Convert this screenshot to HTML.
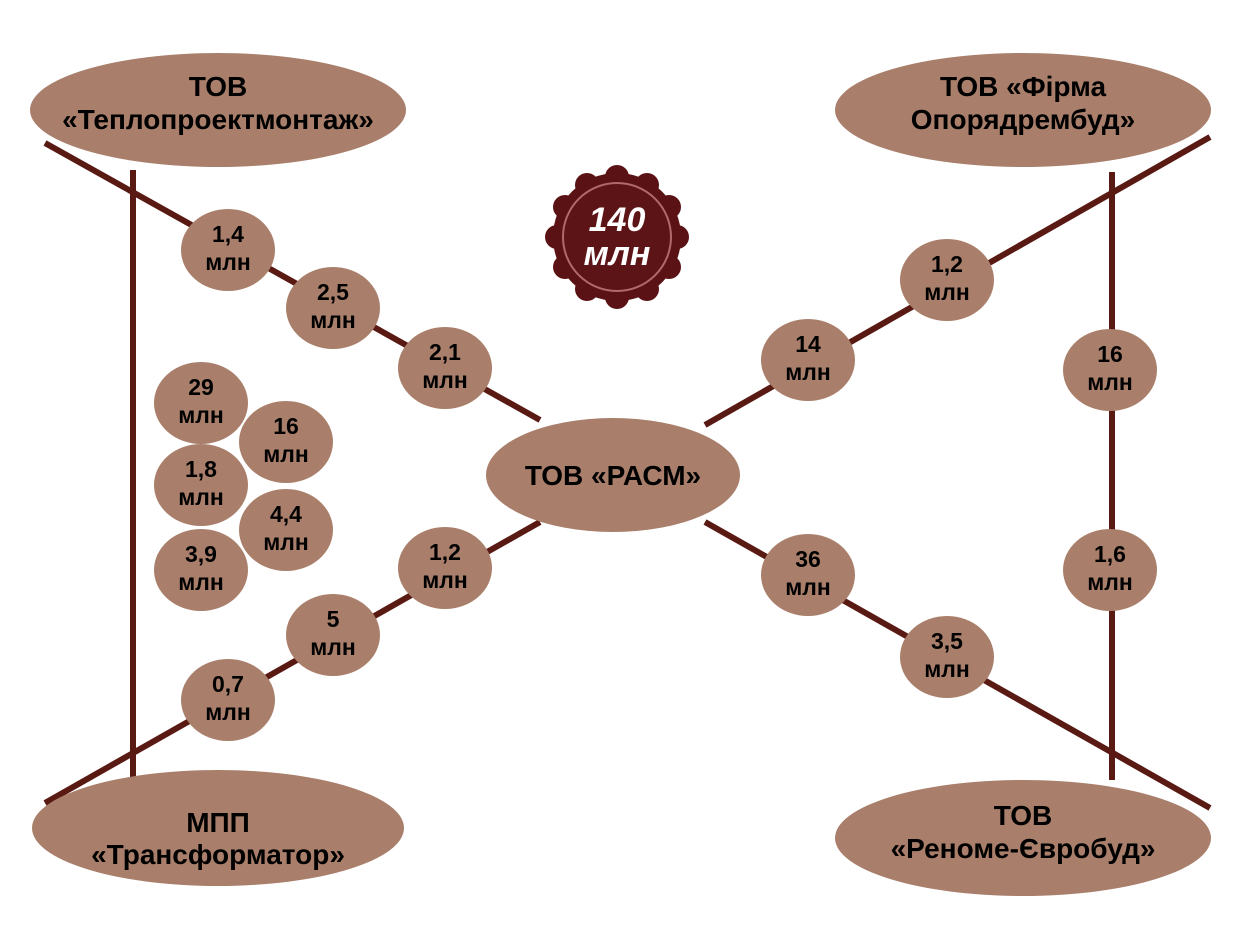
<!DOCTYPE html>
<html><head><meta charset="utf-8"><style>
html,body{margin:0;padding:0;background:#fff}
svg{display:block}
text{font-family:"Liberation Sans",sans-serif;font-weight:bold;fill:#000;text-anchor:middle}
</style></head><body>
<svg width="1241" height="945" viewBox="0 0 1241 945">
<g stroke="#5a1a14" stroke-width="6" fill="none">
<line x1="45" y1="143" x2="540" y2="420"/>
<line x1="133" y1="170" x2="133" y2="778"/>
<line x1="45" y1="803" x2="540" y2="522"/>
<line x1="1210" y1="137" x2="705" y2="425"/>
<line x1="1112" y1="172" x2="1112" y2="780"/>
<line x1="705" y1="522" x2="1210" y2="808"/>
</g>
<g fill="#a97f6b">
<ellipse cx="218" cy="110" rx="188" ry="57"/>
<ellipse cx="1023" cy="110" rx="188" ry="57"/>
<ellipse cx="218" cy="828" rx="186" ry="58"/>
<ellipse cx="1023" cy="838" rx="188" ry="58"/>
<ellipse cx="613" cy="475" rx="127" ry="57"/>
<ellipse cx="228" cy="250" rx="47" ry="41"/>
<ellipse cx="333" cy="308" rx="47" ry="41"/>
<ellipse cx="445" cy="368" rx="47" ry="41"/>
<ellipse cx="445" cy="568" rx="47" ry="41"/>
<ellipse cx="333" cy="635" rx="47" ry="41"/>
<ellipse cx="228" cy="700" rx="47" ry="41"/>
<ellipse cx="947" cy="280" rx="47" ry="41"/>
<ellipse cx="808" cy="360" rx="47" ry="41"/>
<ellipse cx="808" cy="575" rx="47" ry="41"/>
<ellipse cx="947" cy="657" rx="47" ry="41"/>
<ellipse cx="1110" cy="370" rx="47" ry="41"/>
<ellipse cx="1110" cy="570" rx="47" ry="41"/>
<ellipse cx="201" cy="403" rx="47" ry="41"/>
<ellipse cx="286" cy="442" rx="47" ry="41"/>
<ellipse cx="201" cy="485" rx="47" ry="41"/>
<ellipse cx="286" cy="530" rx="47" ry="41"/>
<ellipse cx="201" cy="570" rx="47" ry="41"/>
</g>
<g font-size="28">
<text x="218" y="96">ТОВ</text><text x="218" y="129">«Теплопроектмонтаж»</text>
<text x="1023" y="96">ТОВ  «Фірма</text><text x="1023" y="129">Опорядрембуд»</text>
<text x="218" y="832">МПП</text><text x="218" y="864">«Трансформатор»</text>
<text x="1023" y="825">ТОВ</text><text x="1023" y="858">«Реноме-Євробуд»</text>
<text x="613" y="485">ТОВ «РАСМ»</text>
</g>
<g font-size="23">
<text x="228" y="242">1,4</text><text x="228" y="270">млн</text>
<text x="333" y="300">2,5</text><text x="333" y="328">млн</text>
<text x="445" y="360">2,1</text><text x="445" y="388">млн</text>
<text x="445" y="560">1,2</text><text x="445" y="588">млн</text>
<text x="333" y="627">5</text><text x="333" y="655">млн</text>
<text x="228" y="692">0,7</text><text x="228" y="720">млн</text>
<text x="947" y="272">1,2</text><text x="947" y="300">млн</text>
<text x="808" y="352">14</text><text x="808" y="380">млн</text>
<text x="808" y="567">36</text><text x="808" y="595">млн</text>
<text x="947" y="649">3,5</text><text x="947" y="677">млн</text>
<text x="1110" y="362">16</text><text x="1110" y="390">млн</text>
<text x="1110" y="562">1,6</text><text x="1110" y="590">млн</text>
<text x="201" y="395">29</text><text x="201" y="423">млн</text>
<text x="286" y="434">16</text><text x="286" y="462">млн</text>
<text x="201" y="477">1,8</text><text x="201" y="505">млн</text>
<text x="286" y="522">4,4</text><text x="286" y="550">млн</text>
<text x="201" y="562">3,9</text><text x="201" y="590">млн</text>
</g>
<g transform="translate(617,237)">
<g fill="#5a1214">
<circle r="64"/>
<circle cx="0" cy="-60" r="12"/><circle cx="30" cy="-52" r="12"/><circle cx="52" cy="-30" r="12"/>
<circle cx="60" cy="0" r="12"/><circle cx="52" cy="30" r="12"/><circle cx="30" cy="52" r="12"/>
<circle cx="0" cy="60" r="12"/><circle cx="-30" cy="52" r="12"/><circle cx="-52" cy="30" r="12"/>
<circle cx="-60" cy="0" r="12"/><circle cx="-52" cy="-30" r="12"/><circle cx="-30" cy="-52" r="12"/>
</g>
<circle r="54" fill="#5c1416" stroke="#b06a6a" stroke-width="2"/>
<text y="-6" font-size="34" font-style="italic" style="fill:#fff">140</text>
<text y="28" font-size="34" font-style="italic" style="fill:#fff">млн</text>
</g>
</svg>
</body></html>
